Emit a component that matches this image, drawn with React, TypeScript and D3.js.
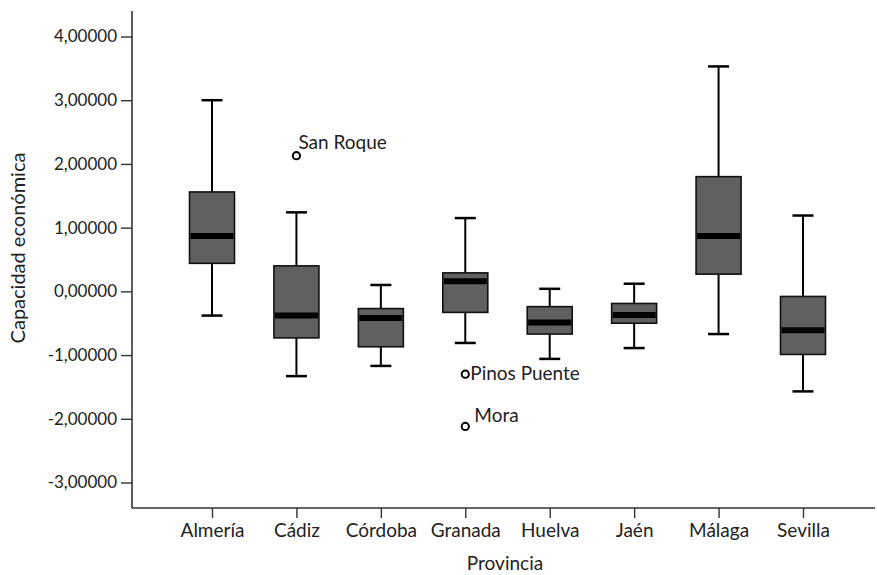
import { useEffect, useRef } from "react";
import * as d3 from "d3";

const provinces = ["Almería", "Cádiz", "Córdoba", "Granada", "Huelva", "Jaén", "Málaga", "Sevilla"];
const whiskerLow = [-0.38, -1.33, -1.17, -0.81, -1.06, -0.89, -0.67, -1.57];
const q1 = [0.44, -0.73, -0.87, -0.33, -0.67, -0.5, 0.27, -0.99];
const median = [0.87, -0.38, -0.42, 0.16, -0.49, -0.37, 0.87, -0.61];
const q3 = [1.56, 0.4, -0.27, 0.29, -0.24, -0.19, 1.8, -0.08];
const whiskerHigh = [3.0, 1.24, 0.1, 1.15, 0.04, 0.12, 3.53, 1.19];

const outlierProvince = ["Cádiz", "Granada", "Granada"];
const outlierValue = [2.13, -1.3, -2.12];
const outlierLabel = ["San Roque", "Pinos Puente", "Mora"];

const yTicks = [4, 3, 2, 1, 0, -1, -2, -3];

const FONT = "Lato, 'Open Sans', sans-serif";

export default function App() {
  const ref = useRef<SVGSVGElement | null>(null);

  useEffect(() => {
    const svg = d3.select(ref.current);
    svg.selectAll("*").remove();

    const left = 132;
    const bottom = 508;
    const top = 11;

    const x = d3.scalePoint<string>().domain(provinces).range([212, 803]);
    const y = d3.scaleLinear().domain([-3.4, 4.4]).range([bottom, top]);

    const boxW = 45;
    const capW = 21;

    // axes
    const yAxis = svg
      .append("g")
      .attr("transform", `translate(${left},0)`)
      .call(
        d3
          .axisLeft(y)
          .tickValues(yTicks)
          .tickSize(11)
          .tickPadding(4)
          .tickFormat((d) => d3.format(".5f")(+d).replace(".", ",").replace("−", "-"))
      );
    yAxis.select(".domain").attr("d", `M0,${top}V${bottom}`);
    yAxis.selectAll(".tick text").style("font-size", "17px");

    const xAxis = svg
      .append("g")
      .attr("transform", `translate(0,${bottom})`)
      .call(d3.axisBottom(x).tickSize(10).tickPadding(6));
    xAxis.select(".domain").attr("d", `M${left},0H875`);
    xAxis.selectAll(".tick text").style("font-size", "19px");

    svg.selectAll(".domain").attr("stroke", "#333").attr("stroke-width", 1.6);
    svg.selectAll(".tick line").attr("stroke", "#333").attr("stroke-width", 1.4);
    svg
      .selectAll(".tick text")
      .attr("fill", "#222")
      .style("font-family", FONT);

    const g = svg.append("g");
    const boxes = g
      .selectAll(".box")
      .data(provinces)
      .enter()
      .append("g")
      .attr("class", "box");

    // whisker stems
    boxes
      .append("line")
      .attr("x1", (d) => x(d)!)
      .attr("x2", (d) => x(d)!)
      .attr("y1", (_, i) => y(whiskerHigh[i]))
      .attr("y2", (_, i) => y(whiskerLow[i]))
      .attr("stroke", "#000")
      .attr("stroke-width", 2);

    // caps
    [whiskerHigh, whiskerLow].forEach((arr) => {
      boxes
        .append("line")
        .attr("x1", (d) => x(d)! - capW / 2)
        .attr("x2", (d) => x(d)! + capW / 2)
        .attr("y1", (_, i) => y(arr[i]))
        .attr("y2", (_, i) => y(arr[i]))
        .attr("stroke", "#000")
        .attr("stroke-width", 2.5);
    });

    boxes
      .append("rect")
      .attr("x", (d) => x(d)! - boxW / 2)
      .attr("width", boxW)
      .attr("y", (_, i) => y(q3[i]))
      .attr("height", (_, i) => y(q1[i]) - y(q3[i]))
      .attr("fill", "#606060")
      .attr("stroke", "#111")
      .attr("stroke-width", 1.6);

    boxes
      .append("line")
      .attr("x1", (d) => x(d)! - boxW / 2 + 1)
      .attr("x2", (d) => x(d)! + boxW / 2 - 1)
      .attr("y1", (_, i) => y(median[i]))
      .attr("y2", (_, i) => y(median[i]))
      .attr("stroke", "#000")
      .attr("stroke-width", 6);

    // outliers
    const out = g
      .selectAll(".outlier")
      .data(outlierValue)
      .enter()
      .append("g")
      .attr("class", "outlier");

    out
      .append("circle")
      .attr("cx", (_, i) => x(outlierProvince[i])!)
      .attr("cy", (d) => y(d))
      .attr("r", 3.6)
      .attr("fill", "#fff")
      .attr("stroke", "#000")
      .attr("stroke-width", 2);

    const labelDx = [2, 5, 9];
    const labelDy = [-7, 6, -4];
    out
      .append("text")
      .attr("x", (_, i) => x(outlierProvince[i])! + labelDx[i])
      .attr("y", (d, i) => y(d) + labelDy[i])
      .style("font-family", FONT)
      .style("font-size", "19px")
      .attr("fill", "#222")
      .text((_, i) => outlierLabel[i]);

    // axis titles
    svg
      .append("text")
      .attr("transform", `translate(25,248) rotate(-90)`)
      .attr("text-anchor", "middle")
      .style("font-family", FONT)
      .style("font-size", "20px")
      .attr("fill", "#222")
      .text("Capacidad económica");

    svg
      .append("text")
      .attr("x", 505)
      .attr("y", 570)
      .attr("text-anchor", "middle")
      .style("font-family", FONT)
      .style("font-size", "19px")
      .attr("fill", "#222")
      .text("Provincia");
  }, []);

  return (
    <svg
      ref={ref}
      width={877}
      height={575}
      style={{ position: "absolute", left: 0, top: 0, background: "#fff" }}
    />
  );
}
